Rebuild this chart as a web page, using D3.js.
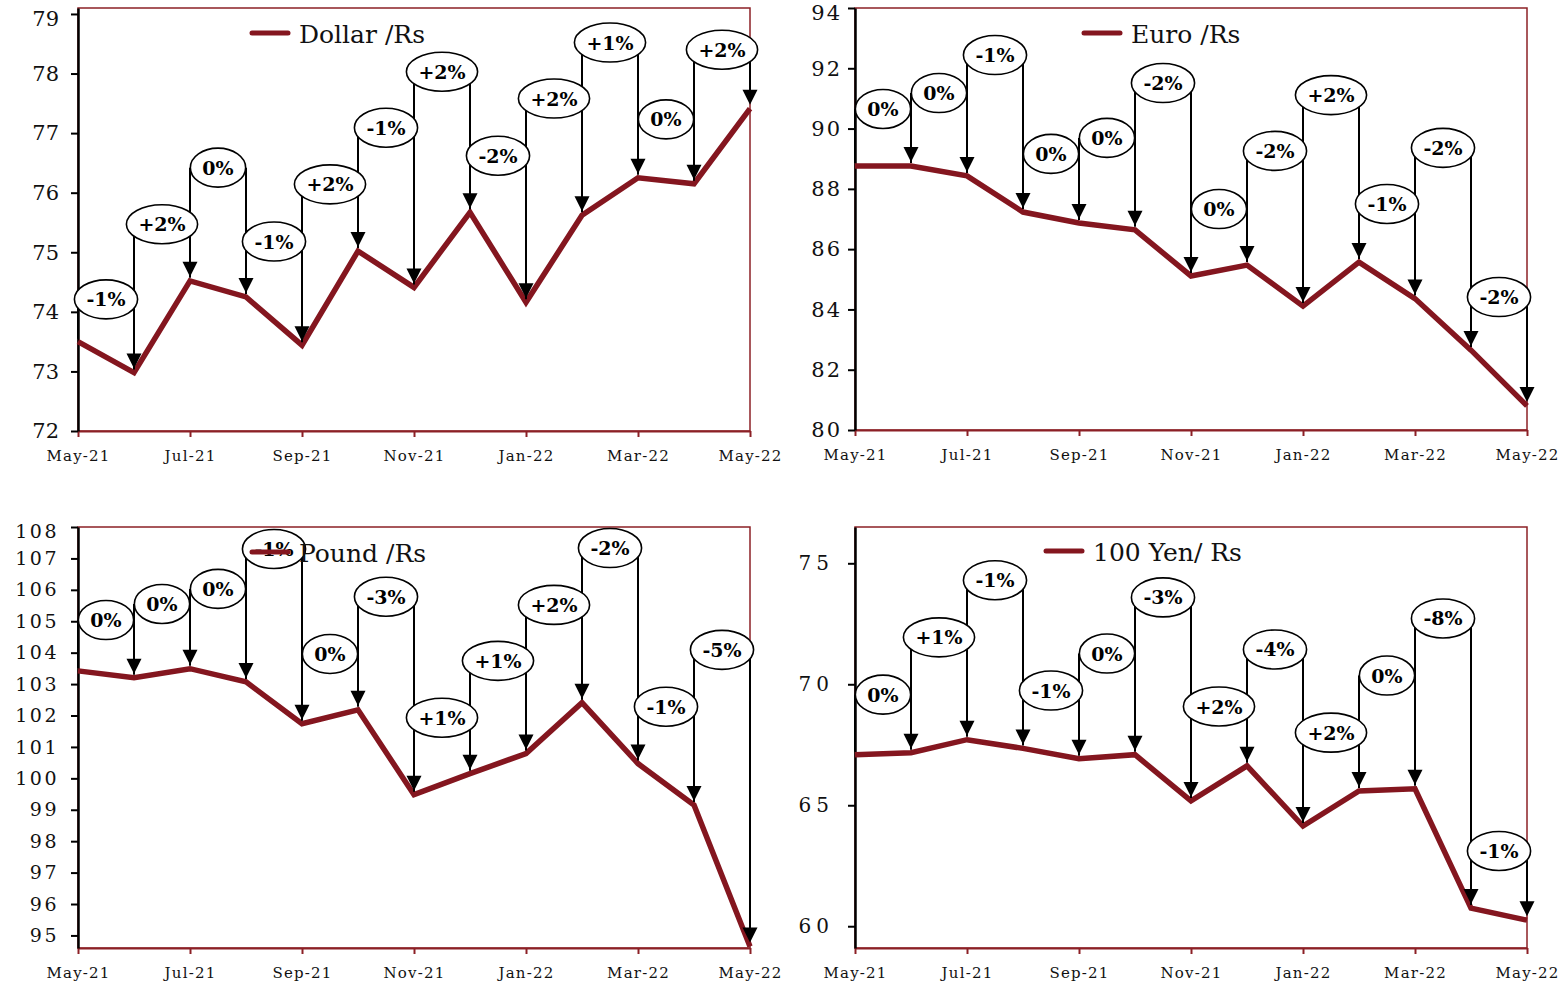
<!DOCTYPE html>
<html><head><meta charset="utf-8">
<script src="https://cdn.jsdelivr.net/npm/d3@7"></script>
<style>body{margin:0;background:#fff}</style>
</head><body>
<svg id="c" width="1568" height="985"></svg>
<script>
// ---------- DATA ----------
const months = ["May-21","Jun-21","Jul-21","Aug-21","Sep-21","Oct-21","Nov-21","Dec-21","Jan-22","Feb-22","Mar-22","Apr-22","May-22"];
const tickMonths = ["May-21","Jul-21","Sep-21","Nov-21","Jan-22","Mar-22","May-22"];

const dollarValues = [73.50, 72.98, 74.52, 74.25, 73.44, 75.02, 74.41, 75.67, 74.16, 75.62, 76.25, 76.15, 77.41];
const dollarLabels = ["-1%","+2%","0%","-1%","+2%","-1%","+2%","-2%","+2%","+1%","0%","+2%"];
const dollarLabelLevels = [74.21, 75.47, 76.42, 75.18, 76.14, 77.09, 78.03, 76.62, 77.58, 78.52, 77.23, 78.40];
const dollarTicks = [72,73,74,75,76,77,78,79];

const euroValues = [88.76, 88.76, 88.43, 87.23, 86.87, 86.64, 85.11, 85.47, 84.11, 85.57, 84.36, 82.65, 80.80];
const euroLabels = ["0%","0%","-1%","0%","0%","-2%","0%","-2%","+2%","-1%","-2%","-2%"];
const euroLabelLevels = [90.65, 91.18, 92.44, 89.16, 89.69, 91.51, 87.33, 89.26, 91.11, 87.50, 89.36, 84.41];
const euroTicks = [80,82,84,86,88,90,92,94];

const poundValues = [103.42, 103.20, 103.49, 103.07, 101.74, 102.18, 99.48, 100.15, 100.79, 102.41, 100.47, 99.15, 94.65];
const poundLabels = ["0%","0%","0%","-1%","0%","-3%","+1%","+1%","+2%","-2%","-1%","-5%"];
const poundLabelLevels = [105.04, 105.55, 106.03, 107.30, 103.96, 105.78, 101.93, 103.74, 105.52, 107.33, 102.28, 104.09];
const poundTicks = [95,96,97,98,99,100,101,102,103,104,105,106,107,108];

const yenValues = [67.09, 67.17, 67.71, 67.35, 66.92, 67.09, 65.18, 66.63, 64.14, 65.59, 65.68, 60.75, 60.25];
const yenLabels = ["0%","+1%","-1%","-1%","0%","-3%","+2%","-4%","+2%","0%","-8%","-1%"];
const yenLabelLevels = [69.57, 71.94, 74.30, 69.74, 71.27, 73.59, 69.08, 71.44, 68.00, 70.36, 72.72, 63.11];
const yenTicks = [60,65,70,75];

// ---------- DRAW ----------
const svg = d3.select("#c");
const RED = "#84161f", BORDER = "#8c2026";
const FONT = "'DejaVu Serif', Georgia, serif";

function drawChart(cfg) {
  const g = svg.append("g");
  const x = d3.scalePoint().domain(months).range([cfg.left, cfg.right]).padding(0);
  const y = d3.scaleLinear().domain(cfg.domain).range([cfg.bottom, cfg.top]);

  g.append("rect").attr("x", cfg.left).attr("y", cfg.top)
    .attr("width", cfg.right - cfg.left).attr("height", cfg.bottom - cfg.top)
    .attr("fill", "none").attr("stroke", BORDER).attr("stroke-width", 1.5);

  const xa = g.append("g").attr("transform", `translate(0,${cfg.bottom})`)
    .call(d3.axisBottom(x).tickValues(tickMonths).tickSize(6).tickSizeOuter(0).tickPadding(13));
  xa.select(".domain").attr("stroke", BORDER).attr("stroke-width", 2);
  xa.selectAll(".tick line").attr("stroke", BORDER).attr("stroke-width", 2);
  xa.selectAll(".tick text").attr("font-family", FONT).attr("font-size", 15)
    .attr("fill", "#111").style("letter-spacing", "1.2px");

  const ya = g.append("g").attr("transform", `translate(${cfg.left},0)`)
    .call(d3.axisLeft(y).tickValues(cfg.ticks).tickSize(7).tickSizeOuter(0).tickPadding(cfg.pad));
  ya.select(".domain").attr("stroke", "#000").attr("stroke-width", 2.5);
  ya.selectAll(".tick line").attr("stroke", "#000").attr("stroke-width", 2);
  ya.selectAll(".tick text").attr("font-family", FONT).attr("font-size", cfg.tickFont)
    .attr("fill", "#111").style("letter-spacing", cfg.ls + "px")
    .attr("dy", d => (y(d) - cfg.top < 6 ? "0.55em" : "0.32em"));

  // series line
  g.append("path").datum(cfg.values)
    .attr("d", d3.line().x((d, i) => x(months[i])).y(d => y(d)))
    .attr("fill", "none").attr("stroke", RED).attr("stroke-width", 5.5).attr("stroke-linejoin", "miter");

  // connectors
  const conn = g.append("g");
  cfg.labels.forEach((lab, i) => {
    const xa_ = x(months[i]), xb = x(months[i + 1]);
    const yl = y(cfg.levels[i]), y0 = y(cfg.values[i]), y1 = y(cfg.values[i + 1]);
    const tip = y1 - 4, base = tip - 15;
    conn.append("line").attr("x1", xa_).attr("x2", xa_).attr("y1", y0 - 3).attr("y2", yl)
      .attr("stroke", "#000").attr("stroke-width", 2);
    conn.append("line").attr("x1", xb).attr("x2", xb).attr("y1", yl).attr("y2", base + 1)
      .attr("stroke", "#000").attr("stroke-width", 2);
    conn.append("path").attr("d", `M${xb},${tip}L${xb - 7.5},${base}L${xb + 7.5},${base}Z`).attr("fill", "#000");
  });
  const labs = g.append("g");
  cfg.labels.forEach((lab, i) => {
    const cx = (x(months[i]) + x(months[i + 1])) / 2, cy = y(cfg.levels[i]);
    const e = labs.append("ellipse").attr("cx", cx).attr("cy", cy).attr("ry", 19.5)
      .attr("fill", "#fff").attr("stroke", "#000").attr("stroke-width", 1.6);
    const t = labs.append("text").attr("x", cx).attr("y", cy).attr("text-anchor", "middle")
      .attr("dominant-baseline", "central").attr("font-family", FONT).attr("font-weight", "bold")
      .attr("font-size", 19).attr("fill", "#000").text(lab);
    const w = t.node().getComputedTextLength();
    e.attr("rx", w / 2 + 12);
  });

  // legend
  const lg = g.append("g");
  lg.append("line").attr("x1", cfg.legX).attr("x2", cfg.legX + 36).attr("y1", cfg.legY).attr("y2", cfg.legY)
    .attr("stroke", RED).attr("stroke-width", 5).attr("stroke-linecap", "round");
  lg.append("text").attr("x", cfg.legX + 47).attr("y", cfg.legY + 10).attr("font-family", FONT)
    .attr("font-size", 25).attr("fill", "#111").text(cfg.legend);
}

drawChart({values: dollarValues, labels: dollarLabels, levels: dollarLabelLevels, ticks: dollarTicks,
  domain: [72, 79.1], left: 78, right: 750, top: 8, bottom: 431, pad: 12, tickFont: 21, ls: 0,
  legend: "Dollar /Rs", legX: 252, legY: 33});
drawChart({values: euroValues, labels: euroLabels, levels: euroLabelLevels, ticks: euroTicks,
  domain: [80, 94], left: 855, right: 1527, top: 8, bottom: 430, pad: 6, tickFont: 21, ls: 2,
  legend: "Euro /Rs", legX: 1084, legY: 33});
drawChart({values: poundValues, labels: poundLabels, levels: poundLabelLevels, ticks: poundTicks,
  domain: [94.6, 108], left: 78, right: 750, top: 527, bottom: 948, pad: 12, tickFont: 19, ls: 2.5,
  legend: "Pound /Rs", legX: 252, legY: 552});
drawChart({values: yenValues, labels: yenLabels, levels: yenLabelLevels, ticks: yenTicks,
  domain: [59.1, 76.5], left: 855, right: 1527, top: 527, bottom: 948, pad: 14, tickFont: 20, ls: 5,
  legend: "100 Yen/ Rs", legX: 1046, legY: 551});
</script>
</body></html>
